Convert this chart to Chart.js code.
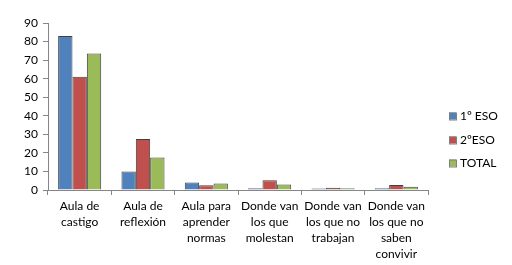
<!DOCTYPE html>
<html>
<head>
<meta charset="utf-8">
<script src="https://cdn.jsdelivr.net/npm/chart.js@4.4.1/dist/chart.umd.min.js"></script>
<style>
  html, body { margin: 0; padding: 0; background: #fff; }
  #wrap { width: 512px; height: 265px; position: relative; }
</style>
</head>
<body>
<div id="wrap"><canvas id="chart"></canvas></div>
<script>
// categories (multi-line labels as in the original)
const categories = [
  ['Aula de', 'castigo'],
  ['Aula de', 'reflexión'],
  ['Aula para', 'aprender', 'normas'],
  ['Donde van', 'los que', 'molestan'],
  ['Donde van', 'los que no', 'trabajan'],
  ['Donde van', 'los que no', 'saben', 'convivir']
];

const seriesNames = ['1º ESO', '2ºESO', 'TOTAL'];
const eso1 = [83, 10, 4, 1, 0.8, 1];
const eso2 = [61, 27.5, 2.5, 5.3, 1.2, 2.7];
const total = [73.5, 17.5, 3.5, 3, 1, 1.8];

const yTicks = [0, 10, 20, 30, 40, 50, 60, 70, 80, 90];

const colors = ['#4F81BD', '#C0504D', '#9BBB59'];

const fontFamily = 'Lato, "Open Sans", sans-serif';
const font = { family: fontFamily, size: 12, lineHeight: '16px' };

// simple legend drawn at the right, like the spreadsheet one
const sideLegend = {
  id: 'sideLegend',
  afterDraw(chart) {
    const c = chart.ctx;
    const x = chart.chartArea.right + 21;
    const rowH = 23.5;
    const datasets = chart.data.datasets;
    const midY = (chart.height) / 2 + 7;
    const startY = midY - rowH * (datasets.length - 1) / 2;
    c.save();
    c.font = '12px ' + fontFamily;
    c.textBaseline = 'middle';
    c.textAlign = 'left';
    datasets.forEach((ds, i) => {
      const y = Math.round(startY + i * rowH);
      c.fillStyle = ds.backgroundColor;
      c.fillRect(x, y - 3.5, 7, 7);
      c.strokeStyle = '#7f7f7f';
      c.lineWidth = 1;
      c.strokeRect(x + 0.5, y - 3.5 + 0.5, 7, 7);
      c.fillStyle = '#000';
      c.fillText(ds.label, x + 11, y + 0.5);
    });
    c.restore();
  }
};

const ctx = document.getElementById('chart');
new Chart(ctx, {
  type: 'bar',
  data: {
    labels: categories,
    datasets: [eso1, eso2, total].map((values, i) => ({
      label: seriesNames[i],
      data: values,
      backgroundColor: colors[i],
      borderColor: '#404040',
      borderWidth: 1,
      categoryPercentage: 0.68,
      barPercentage: 1
    }))
  },
  options: {
    responsive: true,
    maintainAspectRatio: false,
    animation: false,
    layout: { padding: { top: 23, left: 0, right: 84, bottom: 0 } },
    plugins: {
      tooltip: { enabled: false },
      legend: { display: false }
    },
    scales: {
      x: {
        grid: {
          offset: true,
          drawOnChartArea: false,
          tickLength: 5,
          color: '#868686'
        },
        border: { color: '#868686' },
        ticks: {
          color: '#000',
          font: font,
          maxRotation: 0,
          autoSkip: false,
          padding: 3
        },
        afterFit: (scale) => { scale.height = 75; }
      },
      y: {
        min: 0,
        max: 90,
        afterBuildTicks: (scale) => { scale.ticks = yTicks.map(v => ({ value: v })); },
        grid: {
          drawOnChartArea: false,
          tickLength: 5,
          color: '#868686'
        },
        border: { color: '#868686' },
        ticks: {
          color: '#000',
          font: { family: fontFamily, size: 12 },
          padding: 5
        },
        afterFit: (scale) => { scale.width = 48; }
      }
    }
  },
  plugins: [sideLegend]
});
</script>
</body>
</html>
